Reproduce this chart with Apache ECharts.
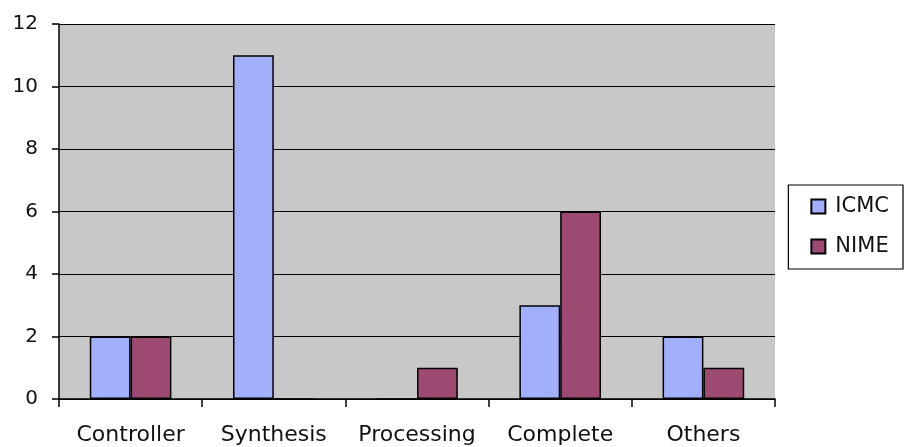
<!DOCTYPE html>
<html>
<head>
<meta charset="utf-8">
<script src="https://cdn.jsdelivr.net/npm/echarts@6/dist/echarts.min.js"></script>
<style>html,body{margin:0;padding:0;background:#fff}#c{width:904px;height:447px}</style>
</head>
<body>
<div id="c"></div>
<script>
const categories = ['Controller', 'Synthesis', 'Processing', 'Complete', 'Others'];
const icmc = [2, 11, 0, 3, 2];
const nime = [2, 0, 1, 6, 1];
const yTicks = [0, 2, 4, 6, 8, 10, 12];

const font = 'DejaVu Sans';
const chart = echarts.init(document.getElementById('c'));
const barStyle = (c) => ({ color: c, borderColor: '#000', borderWidth: 1.5 });

chart.setOption({
  animation: false,
  backgroundColor: '#fff',
  grid: { left: 59, right: 129, top: 24, bottom: 48, show: true, backgroundColor: '#c8c8c8', borderWidth: 0 },
  legend: {
    orient: 'vertical',
    right: 1, top: 185,
    padding: [11, 14, 12, 22],
    itemGap: 19,
    itemWidth: 14, itemHeight: 14,
    icon: 'rect',
    borderColor: '#000', borderWidth: 1.2,
    textStyle: { fontFamily: font, fontSize: 21, color: '#111', padding: [0, 0, 0, 5] },
    data: ['ICMC', 'NIME']
  },
  xAxis: {
    type: 'category',
    data: categories,
    axisLine: { lineStyle: { color: '#000', width: 1.5 } },
    axisTick: { show: true, interval: 0, length: 8, lineStyle: { color: '#000', width: 1.5 } },
    axisLabel: { interval: 0, hideOverlap: false, fontFamily: font, fontSize: 22, color: '#111', margin: 25 }
  },
  yAxis: {
    type: 'value',
    min: yTicks[0], max: yTicks[yTicks.length - 1], interval: 2,
    axisLine: { show: true, lineStyle: { color: '#000', width: 1.5 } },
    axisTick: { show: true, length: 7, lineStyle: { color: '#000', width: 1.5 } },
    splitLine: { lineStyle: { color: '#000', width: 1.2 } },
    axisLabel: { fontFamily: font, fontSize: 20, color: '#111', margin: 21 }
  },
  series: [
    { name: 'ICMC', type: 'bar', data: icmc, barGap: '0%', barCategoryGap: '43%', itemStyle: barStyle('#a2affd') },
    { name: 'NIME', type: 'bar', data: nime, itemStyle: barStyle('#9c4a72') }
  ]
});
</script>
</body>
</html>
